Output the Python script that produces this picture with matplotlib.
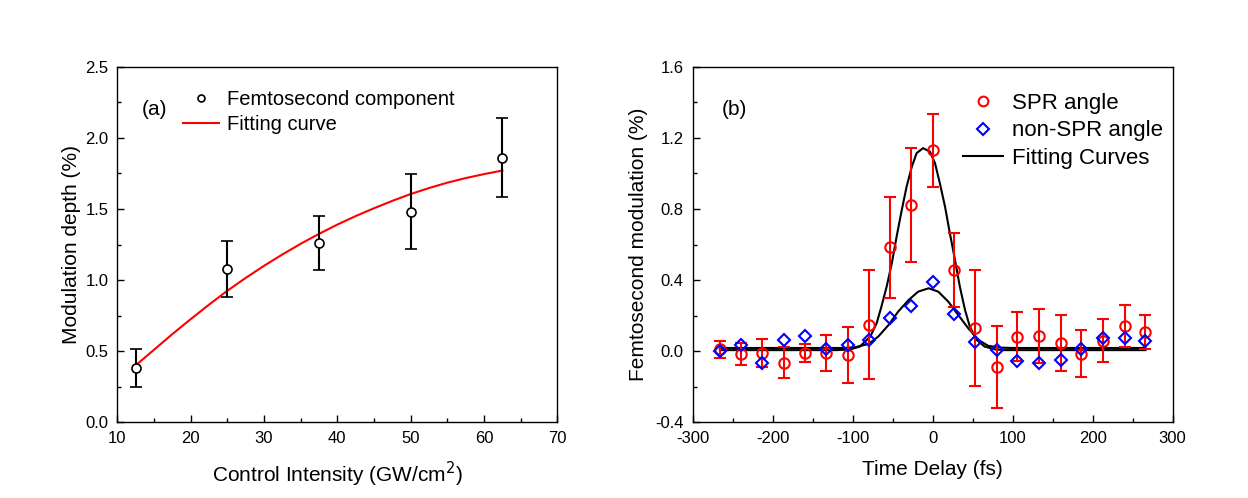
import matplotlib
matplotlib.use("Agg")
import matplotlib.pyplot as plt
from matplotlib.lines import Line2D
from matplotlib.ticker import MultipleLocator, FormatStrFormatter

plt.rcParams['font.family'] = ['Liberation Sans', 'DejaVu Sans']
plt.rcParams['axes.unicode_minus'] = False

# ---- panel (a): femtosecond component vs control intensity ----
intensity = [12.5, 25, 37.5, 50, 62.5]
depth = [0.38, 1.08, 1.26, 1.48, 1.86]
depth_err = [0.135, 0.197, 0.19, 0.265, 0.277]

# fitting curve
fit_a_x = [12.5, 15, 17.5, 20, 22.5, 25, 27.5, 30, 32.5, 35, 37.5,
           40, 42.5, 45, 47.5, 50, 52.5, 55, 57.5, 60, 62.5]
fit_a_y = [0.40, 0.51, 0.62, 0.725, 0.827, 0.925, 1.015, 1.10, 1.18, 1.255, 1.325,
           1.39, 1.45, 1.505, 1.557, 1.605, 1.647, 1.685, 1.717, 1.745, 1.77]

# ---- panel (b): modulation vs time delay ----
delay = [-266, -240, -213, -186, -160, -133, -106, -80, -53, -27, 0,
         27, 53, 80, 106, 133, 160, 186, 213, 240, 266]
spr = [0.01, -0.015, -0.01, -0.065, -0.01, -0.01, -0.022, 0.148, 0.584, 0.823, 1.13,
       0.457, 0.129, -0.088, 0.082, 0.086, 0.045, -0.013, 0.06, 0.142, 0.107]
spr_err = [0.05, 0.063, 0.079, 0.088, 0.052, 0.103, 0.159, 0.306, 0.283, 0.322, 0.206,
           0.209, 0.325, 0.231, 0.138, 0.15, 0.157, 0.133, 0.119, 0.118, 0.095]
non_spr = [0.0, 0.037, -0.065, 0.065, 0.084, 0.015, 0.037, 0.065, 0.187, 0.253, 0.389,
           0.21, 0.05, 0.006, -0.057, -0.065, -0.048, 0.013, 0.074, 0.076, 0.059]

# fitting curves
fit_spr_x = [-266, -120, -103, -91, -78, -70, -64, -57.5, -51, -45, -39, -32.5, -26,
             -20, -12, -3.5, 3, 9, 15.5, 21.5, 28, 34, 40.5, 46.5, 55, 65, 78, 90, 266]
fit_spr_y = [0.006, 0.006, 0.01, 0.026, 0.082, 0.157, 0.251, 0.363, 0.495, 0.645,
             0.785, 0.926, 1.038, 1.114, 1.142, 1.123, 1.057, 0.945, 0.813, 0.664,
             0.513, 0.363, 0.232, 0.138, 0.064, 0.026, 0.01, 0.006, 0.006]
fit_non_x = [-266, -110, -97, -80, -68, -55, -43, -30, -18, -5, 7, 19.5, 32, 44.5,
             57, 69.5, 85, 100, 266]
fit_non_y = [0.018, 0.018, 0.022, 0.041, 0.082, 0.148, 0.223, 0.288, 0.335, 0.354,
             0.335, 0.279, 0.204, 0.129, 0.064, 0.03, 0.02, 0.018, 0.018]

fig = plt.figure(figsize=(12.48, 4.98), dpi=100)
ax1 = fig.add_axes([0.094, 0.152, 0.3526, 0.714])
ax2 = fig.add_axes([0.555, 0.152, 0.3846, 0.714])

for ax in (ax1, ax2):
    ax.tick_params(which='both', direction='in', top=False, right=False,
                   labelsize=12, pad=6.5, width=1)
    ax.tick_params(which='major', length=5)
    ax.tick_params(which='minor', length=3)
    for s in ax.spines.values():
        s.set_linewidth(1.0)

# (a)
ax1.plot(fit_a_x, fit_a_y, color='red', lw=1.5, zorder=2)
ax1.errorbar(intensity, depth, yerr=depth_err, fmt='o', mfc='white', mec='black',
             mew=1.2, ms=6.5, ecolor='black', elinewidth=1.5, capsize=4, capthick=1.5,
             zorder=3)
ax1.set_xlim(10, 70)
ax1.set_ylim(0, 2.5)
ax1.xaxis.set_major_locator(MultipleLocator(10))
ax1.xaxis.set_minor_locator(MultipleLocator(5))
ax1.yaxis.set_major_locator(MultipleLocator(0.5))
ax1.yaxis.set_minor_locator(MultipleLocator(0.25))
ax1.yaxis.set_major_formatter(FormatStrFormatter('%.1f'))
ax1.set_xlabel('Control Intensity (GW/cm$^2$)', fontsize=15, labelpad=10)
ax1.set_ylabel('Modulation depth (%)', fontsize=15, labelpad=3)
ax1.text(0.055, 0.88, '(a)', transform=ax1.transAxes, fontsize=15, va='center')
h_a = [Line2D([], [], ls='none', marker='o', mfc='white', mec='black', mew=1.2, ms=5),
       Line2D([], [], color='red', lw=1.5)]
ax1.legend(h_a, ['Femtosecond component', 'Fitting curve'], loc='upper left',
           bbox_to_anchor=(0.1486, 0.935), frameon=False, fontsize=14.5,
           borderpad=0, borderaxespad=0, handlelength=1.8, handletextpad=0.4,
           labelspacing=0.3)

# (b)
ax2.plot(fit_spr_x, fit_spr_y, color='black', lw=1.5, zorder=2)
ax2.plot(fit_non_x, fit_non_y, color='black', lw=1.5, zorder=2)
ax2.errorbar(delay, spr, yerr=spr_err, fmt='o', mfc='none', mec='red', mew=1.5,
             ms=7.5, ecolor='red', elinewidth=1.5, capsize=4, capthick=1.5, zorder=3)
ax2.plot(delay, non_spr, ls='none', marker='D', mfc='none', mec='blue', mew=1.5,
         ms=6.5, zorder=4)
ax2.set_xlim(-300, 300)
ax2.set_ylim(-0.4, 1.6)
ax2.xaxis.set_major_locator(MultipleLocator(100))
ax2.xaxis.set_minor_locator(MultipleLocator(50))
ax2.yaxis.set_major_locator(MultipleLocator(0.4))
ax2.yaxis.set_minor_locator(MultipleLocator(0.2))
ax2.yaxis.set_major_formatter(FormatStrFormatter('%.1f'))
ax2.set_xlabel('Time Delay (fs)', fontsize=15, labelpad=10)
ax2.set_ylabel('Femtosecond modulation (%)', fontsize=15, labelpad=5)
ax2.text(0.06, 0.88, '(b)', transform=ax2.transAxes, fontsize=15, va='center')
h_b = [Line2D([], [], ls='none', marker='o', mfc='none', mec='red', mew=1.5, ms=7),
       Line2D([], [], ls='none', marker='D', mfc='none', mec='blue', mew=1.5, ms=6),
       Line2D([], [], color='black', lw=1.5)]
ax2.legend(h_b, ['SPR angle', 'non-SPR angle', 'Fitting Curves'], loc='upper left',
           bbox_to_anchor=(0.564, 0.927), frameon=False, fontsize=16,
           borderpad=0, borderaxespad=0, handlelength=1.8, handletextpad=0.4,
           labelspacing=0.3)

fig.savefig('out.png', dpi=100)
